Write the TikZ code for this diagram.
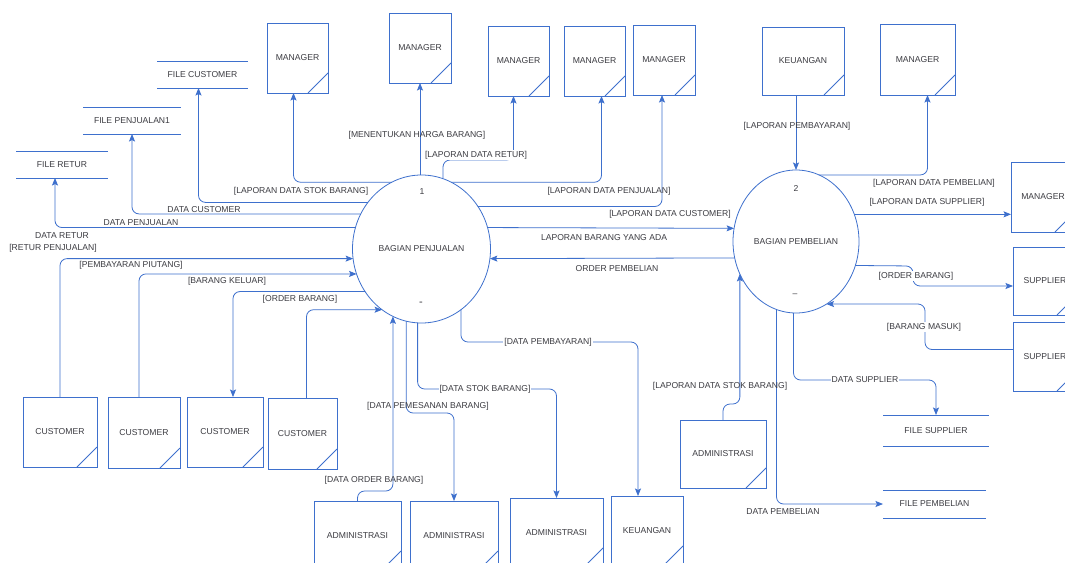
\documentclass[tikz,border=0pt]{standalone}
\usepackage{fontspec}
\setmainfont{Liberation Sans}
\usepackage{tikz}
\usetikzlibrary{arrows.meta, shapes.geometric}
\definecolor{dfdblue}{RGB}{62,112,205}
\definecolor{dfdtext}{RGB}{60,60,66}

\begin{document}
\begin{tikzpicture}[x=1pt, y=-1pt,
    every node/.style={font=\fontsize{8.6}{9}\selectfont, text=dfdtext},
    ent/.style={draw=dfdblue, line width=0.9pt, minimum width=62pt,
                minimum height=70pt, inner sep=0pt, outer sep=0pt,
                path picture={\draw[dfdblue, line width=0.8pt]
                  ([xshift=-20pt]path picture bounding box.south east) --
                  ([yshift=20pt]path picture bounding box.south east);}},
    proc/.style={ellipse, draw=dfdblue, line width=0.8pt,
                 inner sep=0pt, outer sep=0pt},
    store/.style={minimum height=27pt, inner sep=0pt, outer sep=0pt,
                  append after command={
                    (\tikzlastnode.north west) edge[dfdblue, line width=0.8pt] (\tikzlastnode.north east)
                    (\tikzlastnode.south west) edge[dfdblue, line width=0.8pt] (\tikzlastnode.south east)}},
    flow/.style={draw=dfdblue, line width=0.8pt, rounded corners=7pt,
                 -{Stealth[length=7.5pt, width=6pt, inset=1.5pt]}},
    lbl/.style={inner sep=1pt},
    lblw/.style={lbl, fill=white}]

\path[fill=white] (0,0) rectangle (1065,562);
\useasboundingbox (0,0) rectangle (1065,562);

% processes
\node[proc, minimum width=138pt, minimum height=148pt] (p1) at (421.5,249) {BAGIAN PENJUALAN};
\node (p1num) at (422,192) {1};
\node[font=\fontsize{11}{11}\selectfont] (p1dash) at (421,304) {-};
\node[proc, minimum width=126pt, minimum height=143pt] (p2) at (796,241.5) {BAGIAN PEMBELIAN};
\node (p2num) at (796,188) {2};
\node (p2dash) at (795,295) {--};

% external entities
\node[ent, minimum width=61pt] (mA) at (297.5,58) {MANAGER};
\node[ent] (mB) at (420,48) {MANAGER};
\node[ent, minimum width=61pt] (mC) at (518.5,61) {MANAGER};
\node[ent, minimum width=61pt] (mD) at (594.5,61) {MANAGER};
\node[ent] (mE) at (664,60) {MANAGER};
\node[ent, minimum width=82pt, minimum height=68pt] (kt) at (803,61) {KEUANGAN};
\node[ent, minimum width=75pt, minimum height=71pt] (mT) at (917.5,59.5) {MANAGER};
\node[ent, minimum width=64pt] (mR) at (1043,197) {MANAGER};
\node[ent, minimum width=64pt, minimum height=68pt] (s1) at (1045,281) {SUPPLIER};
\node[ent, minimum width=64pt, minimum height=69pt] (s2) at (1045,356.5) {SUPPLIER};
\node[ent, minimum width=74pt] (c1) at (60,432) {CUSTOMER};
\node[ent, minimum width=72pt, minimum height=71pt] (c2) at (144,432.5) {CUSTOMER};
\node[ent, minimum width=76pt] (c3) at (225,432) {CUSTOMER};
\node[ent, minimum width=69pt, minimum height=71pt] (c4) at (302.5,433.5) {CUSTOMER};
\node[ent, minimum width=87pt] (a1) at (357.5,536) {ADMINISTRASI};
\node[ent, minimum width=88pt] (a2) at (454,536) {ADMINISTRASI};
\node[ent, minimum width=93pt] (a3) at (556.5,533) {ADMINISTRASI};
\node[ent, minimum width=72pt] (kb) at (647,531) {KEUANGAN};
\node[ent, minimum width=86pt, minimum height=68pt] (ar) at (723,454) {ADMINISTRASI};

% data stores
\node[store, minimum width=91pt] (fcust) at (202.5,74.5) {FILE CUSTOMER};
\node[store, minimum width=98pt] (fpenj) at (132,120.5) {FILE PENJUALAN1};
\node[store, minimum width=92pt] (fretur) at (62,164.5) {FILE RETUR};
\node[store, minimum width=106pt, minimum height=31pt] (fsup) at (936,430.5) {FILE SUPPLIER};
\node[store, minimum width=103pt, minimum height=28pt] (fpb) at (934.5,504) {FILE PEMBELIAN};

% flows of process 1
\draw[flow] (p1.114) -| ([xshift=-4pt]mA.south);
\draw[flow] (p1.139) -| ([xshift=-4pt]fcust.south);
\draw[flow] (p1.150) -| (fpenj.south);
\draw[flow] (p1.162) -| ([xshift=-7pt]fretur.south);
\draw[flow] (c1.north) |- (p1.188);
\draw[flow] ([xshift=-5pt]c2.north) |- (p1.201);
\draw[flow] (p1.217) -| ([xshift=8pt]c3.north);
\draw[flow] ([xshift=4pt]c4.north) |- (p1.237);
\draw[flow] (a1.north) -- ++(0,-10) -| (p1.247);
\draw[flow] (p1.258) -- (p1.258 |- 0,413) -| (a2.north);
\draw[flow] (p1.267) -- (p1.267 |- 0,389) -| (a3.north);
\draw[flow] (p1.303) -- (p1.303 |- 0,342) -| ([xshift=-9pt]kb.north);
\draw[flow] (mB.south |- p1.north) -- (mB.south);
\draw[flow] (p1.73) -- (p1.73 |- 0,160) -| ([xshift=-5pt]mC.south);
\draw[flow] (p1.66) -| ([xshift=7pt]mD.south);
\draw[flow] (p1.37) -| ([xshift=-2pt]mE.south);
\draw[flow] (p1.18) -- (p2.168);
\draw[flow] (p2.195) -- (p1.352);

% flows of process 2
\draw[flow] (p2.north |- kt.south) -- (p2.north);
\draw[flow] (p2.71) -| ([xshift=10pt]mT.south);
\draw[flow] (p2.25) -- (p2.25 -| mR.west);
\draw[flow] (p2.338) -- (913,266) -- (913,286) -- (s1.west |- 0,286);
\draw[flow] ([yshift=7pt]s2.west) -| (925,304) -- (p2.296);
\draw[flow] (ar.north) -- ++(0,-16) -| (p2.210);
\draw[flow] (p2.254) |- (fpb.west);
\draw[flow] (p2.268) -- (p2.268 |- 0,380) -| (fsup.north);

% labels
\node[lbl] (lstok) at (301,191) {[LAPORAN DATA STOK BARANG]};
\node[lbl] (ldcust) at (204,210) {DATA CUSTOMER};
\node[lbl] (ldpenj) at (141,223) {DATA PENJUALAN};
\node[lbl] (ldretur) at (62,236) {DATA RETUR};
\node[lbl] (lretur) at (53,248) {[RETUR PENJUALAN]};
\node[lbl] (lpiutang) at (131,265) {[PEMBAYARAN PIUTANG]};
\node[lbl] (lkeluar) at (227,281) {[BARANG KELUAR]};
\node[lbl] (lorder) at (300,299) {[ORDER BARANG]};
\node[lbl] (lharga) at (417,135) {[MENENTUKAN HARGA BARANG]};
\node[lblw] (llretur) at (476,155) {[LAPORAN DATA RETUR]};
\node[lbl] (llpenj) at (609,191) {[LAPORAN DATA PENJUALAN]};
\node[lbl] (llcust) at (670,214) {[LAPORAN DATA CUSTOMER]};
\node[lbl] (lada) at (604,238) {LAPORAN BARANG YANG ADA};
\node[lbl] (lopb) at (617,269) {ORDER PEMBELIAN};
\node[lblw] (lbayar) at (548,342) {[DATA PEMBAYARAN]};
\node[lblw] (ldstok) at (485,389) {[DATA STOK BARANG]};
\node[lbl] (lpesan) at (428,406) {[DATA PEMESANAN BARANG]};
\node[lbl] (ldorder) at (374,480) {[DATA ORDER BARANG]};
\node[lbl] (llbayar) at (797,126) {[LAPORAN PEMBAYARAN]};
\node[lbl] (llpb) at (934,183) {[LAPORAN DATA PEMBELIAN]};
\node[lbl] (llsup) at (927,202) {[LAPORAN DATA SUPPLIER]};
\node[lblw] (lorder2) at (916,276) {[ORDER BARANG]};
\node[lblw] (lmasuk) at (924,327) {[BARANG MASUK]};
\node[lbl] (llstok2) at (720,386) {[LAPORAN DATA STOK BARANG]};
\node[lblw] (ldsup) at (865,380) {DATA SUPPLIER};
\node[lbl] (ldpb) at (783,512) {DATA PEMBELIAN};
\end{tikzpicture}
\end{document}
